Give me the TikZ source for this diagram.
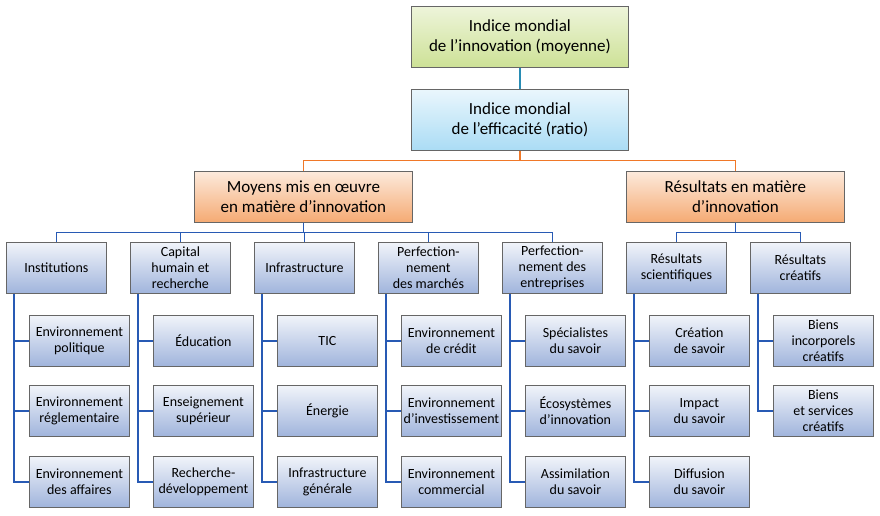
\documentclass[tikz,border=0pt]{standalone}
\usepackage{fontspec}
\setmainfont{Carlito}
\usetikzlibrary{positioning}
\definecolor{lime}{RGB}{205,225,150}
\definecolor{sky}{RGB}{170,220,245}
\definecolor{peach}{RGB}{245,170,115}
\definecolor{steel}{RGB}{160,180,220}
\definecolor{linkblue}{RGB}{40,90,180}
\definecolor{linkorange}{RGB}{240,120,40}
\definecolor{linkteal}{RGB}{40,140,180}
\begin{document}
\begin{tikzpicture}[x=1pt,y=-1pt,
	box/.style={draw=gray!80!black,line width=0.8pt,align=center,inner sep=1pt,anchor=north west},
	top node/.style={box,minimum width=217pt,minimum height=61pt,font=\fontsize{17}{20}\selectfont,top color=lime!35,bottom color=lime},
	eff node/.style={box,minimum width=217pt,minimum height=61pt,font=\fontsize{17}{20}\selectfont,top color=sky!25,bottom color=sky},
	pillar node/.style={box,minimum width=218pt,minimum height=51pt,font=\fontsize{17}{20}\selectfont,top color=peach!25,bottom color=peach},
	sub node/.style={box,minimum width=100pt,minimum height=51pt,font=\fontsize{14}{16}\selectfont,top color=steel!15,bottom color=steel},
	link/.style={draw=linkblue,line width=1.2pt}]
	\useasboundingbox (0,0) rectangle (880,515);
	
	\node[top node] (gii) at (411,6) {Indice mondial\\de l’innovation (moyenne)};
	\node[eff node] (eff) at (411,89) {Indice mondial\\de l’efficacité (ratio)};
	\node[pillar node] (inp) at (194,171) {Moyens mis en œuvre\\en matière d’innovation};
	\node[pillar node] (out) at (626,171) {Résultats en matière\\d’innovation};
	
	% sous-indices
	\node[sub node] (inst) at (6,242) {Institutions};
	\node[sub node] (hum) at (130,242) {Capital\\humain et\\recherche};
	\node[sub node] (infra) at (254,242) {Infrastructure};
	\node[sub node] (mkt) at (378,242) {Perfection-\\nement\\des marchés};
	\node[sub node] (bus) at (502,242) {Perfection-\\nement des\\entreprises};
	\node[sub node] (sci) at (626,242) {Résultats\\scientifiques};
	\node[sub node] (cre) at (750,242) {Résultats\\créatifs};
	
	% piliers
	\node[sub node] (pol) at (29,315) {Environnement\\politique};
	\node[sub node] (reg) at (29,385) {Environnement\\réglementaire};
	\node[sub node] (aff) at (29,456) {Environnement\\des affaires};
	\node[sub node] (edu) at (153,315) {Éducation};
	\node[sub node] (sup) at (153,385) {Enseignement\\supérieur};
	\node[sub node] (rd) at (153,456) {Recherche-\\développement};
	\node[sub node] (tic) at (277,315) {TIC};
	\node[sub node] (nrg) at (277,385) {Énergie};
	\node[sub node] (gen) at (277,456) {Infrastructure\\générale};
	\node[sub node] (cred) at (401,315) {Environnement\\de crédit};
	\node[sub node] (inv) at (401,385) {Environnement\\d’investissement};
	\node[sub node] (com) at (401,456) {Environnement\\commercial};
	\node[sub node] (spe) at (525,315) {Spécialistes\\du savoir};
	\node[sub node] (eco) at (525,385) {Écosystèmes\\d’innovation};
	\node[sub node] (ass) at (525,456) {Assimilation\\du savoir};
	\node[sub node] (crs) at (649,315) {Création\\de savoir};
	\node[sub node] (imp) at (649,385) {Impact\\du savoir};
	\node[sub node] (dif) at (649,456) {Diffusion\\du savoir};
	\node[sub node] (bic) at (773,315) {Biens\\incorporels\\créatifs};
	\node[sub node] (bsc) at (773,385) {Biens\\et services\\créatifs};
	
	\draw[draw=linkteal,line width=1.2pt] (gii) -- (eff);
	\draw[draw=linkorange,line width=1.2pt] (eff.south) -- ++(0,10) -| (inp.north);
	\draw[draw=linkorange,line width=1.2pt] (eff.south) -- ++(0,10) -| (out.north);
	\foreach \s in {inst,hum,infra,mkt,bus}
		\draw[link] (inp.south) -- ++(0,10) -| (\s.north);
	\foreach \s in {sci,cre}
		\draw[link] (out.south) -- ++(0,10) -| (\s.north);
	\foreach \p/\c in {inst/pol,inst/reg,inst/aff,hum/edu,hum/sup,hum/rd,
		infra/tic,infra/nrg,infra/gen,mkt/cred,mkt/inv,mkt/com,
		bus/spe,bus/eco,bus/ass,sci/crs,sci/imp,sci/dif,cre/bic,cre/bsc}
		\draw[link] ([xshift=8pt]\p.south west) |- (\c.west);
\end{tikzpicture}
\end{document}
